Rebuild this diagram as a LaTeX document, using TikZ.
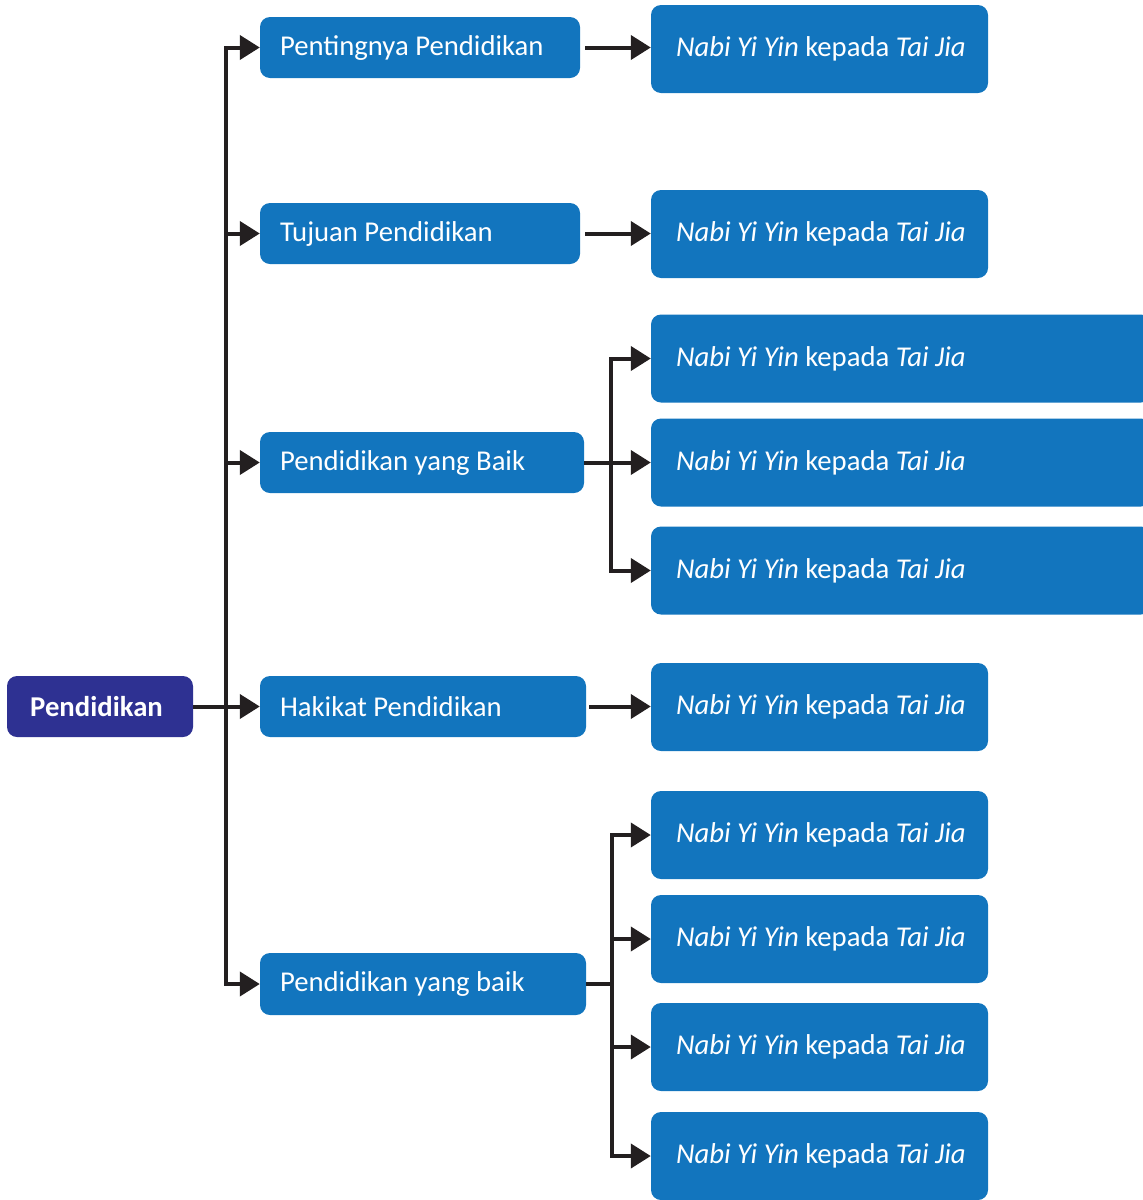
\documentclass[tikz,border=0pt]{standalone}
\usepackage{fontspec}
\setmainfont{Carlito}
\usetikzlibrary{arrows.meta,calc}
\definecolor{boxblue}{HTML}{1275BE}
\definecolor{rootblue}{HTML}{2E3192}
\definecolor{linecol}{HTML}{231F20}
\newcommand{\nabitext}{\textit{Nabi Yi Yin} kepada \textit{Tai Jia}}
\tikzset{
  basebox/.style={rectangle, rounded corners=10pt, fill=boxblue, text=white, inner sep=0pt, font=\fontsize{28.7}{34}\selectfont},
  rootbox/.style={basebox, fill=rootblue, font=\fontsize{28.7}{34}\selectfont\bfseries, minimum width=186pt, minimum height=61pt},
  lvlone/.style={basebox, minimum height=61pt},
  lvltwo/.style={basebox, minimum height=88pt},
  conn/.style={draw=linecol, line width=4pt},
  arr/.style={conn, -{Triangle[length=20pt,width=24pt]}, line join=miter},
}
\newcommand{\lbox}[2]{\raisebox{-1.5pt}{\makebox[#1][l]{\hspace{20pt}#2}}}
\newcommand{\nbox}[2]{\raisebox{-2pt}{\makebox[#1][l]{\hspace{25pt}#2}}}
\begin{document}
\begin{tikzpicture}[x=1pt,y=-1pt]
\useasboundingbox (0,0) rectangle (1143,1200);
% root
\node[rootbox] (root) at (100,706.5) {\makebox[186pt]{\hspace{-7pt}Pendidikan}};
% level one
\node[lvlone, minimum width=320pt] (l1) at (420,47.5) {\lbox{320pt}{Pentingnya Pendidikan}};
\node[lvlone, minimum width=320pt] (l2) at (420,233.5) {\lbox{320pt}{Tujuan Pendidikan}};
\node[lvlone, minimum width=324pt] (l3) at (422,462.5) {\lbox{324pt}{Pendidikan yang Baik}};
\node[lvlone, minimum width=326pt] (l4) at (423,706.5) {\lbox{326pt}{Hakikat Pendidikan}};
\node[lvlone, minimum width=326pt, minimum height=62pt] (l5) at (423,984) {\lbox{326pt}{Pendidikan yang baik}};
% level two
\node[lvltwo, minimum width=337pt] (n1) at (819.5,49) {\nbox{337pt}{\nabitext}};
\node[lvltwo, minimum width=337pt] (n2) at (819.5,234) {\nbox{337pt}{\nabitext}};
\node[lvltwo, minimum width=500pt] (n3a) at (901,358.5) {\nbox{500pt}{\nabitext}};
\node[lvltwo, minimum width=500pt] (n3b) at (901,462.5) {\nbox{500pt}{\nabitext}};
\node[lvltwo, minimum width=500pt] (n3c) at (901,570.5) {\nbox{500pt}{\nabitext}};
\node[lvltwo, minimum width=337pt] (n4) at (819.5,707) {\nbox{337pt}{\nabitext}};
\node[lvltwo, minimum width=337pt] (n5a) at (819.5,835) {\nbox{337pt}{\nabitext}};
\node[lvltwo, minimum width=337pt] (n5b) at (819.5,939) {\nbox{337pt}{\nabitext}};
\node[lvltwo, minimum width=337pt] (n5c) at (819.5,1047) {\nbox{337pt}{\nabitext}};
\node[lvltwo, minimum width=337pt] (n5d) at (819.5,1156) {\nbox{337pt}{\nabitext}};
% junction coordinates
\coordinate (tk) at (226,0);
\coordinate (bx3) at (611,0);
\coordinate (bx5) at (612,0);
% trunk
\draw[conn] (root.east) -- (tk |- root.east);
\draw[arr] (tk |- l4.west) -- (tk |- l1.west) -- (l1.west);
\draw[arr] (tk |- l4.west) -- (tk |- l5.west) -- (l5.west);
\draw[arr] (tk |- l2.west) -- (l2.west);
\draw[arr] (tk |- l3.west) -- (l3.west);
\draw[arr] (root.east) -- (l4.west);
% single links
\draw[arr, shorten <=5pt] (l1.east) -- (n1.west |- l1.east);
\draw[arr, shorten <=5pt] (l2.east) -- (n2.west |- l2.east);
\draw[arr, shorten <=3pt] (l4.east) -- (n4.west |- l4.east);
% group three
\draw[arr] (l3.east) -- (n3b.west);
\draw[arr] (bx3 |- l3.east) |- (n3a.west);
\draw[arr] (bx3 |- l3.east) |- (n3c.west);
% group five
\draw[conn] (l5.east) -- (bx5 |- l5.east);
\draw[arr] (bx5 |- l5.east) |- (n5a.west);
\draw[arr] (bx5 |- l5.east) |- (n5d.west);
\draw[arr] (bx5 |- n5b.west) -- (n5b.west);
\draw[arr] (bx5 |- n5c.west) -- (n5c.west);
\end{tikzpicture}
\end{document}
